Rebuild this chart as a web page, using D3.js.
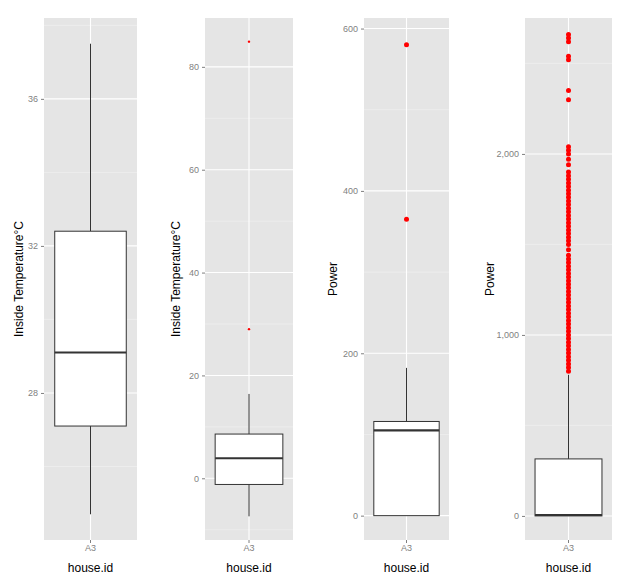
<!DOCTYPE html><html><head><meta charset="utf-8">
<script src="https://cdn.jsdelivr.net/npm/d3@7"></script>
<style>body{margin:0;background:#fff;font-family:"Liberation Sans",Arial,sans-serif}</style></head><body>
<svg id="c" width="626" height="582"></svg>
<script>
const category = ["A3"];
const yTitles = ["Inside Temperature°C","Inside Temperature°C","Power","Power"];
const stats = [ // [lowWhisker, q1, median, q3, highWhisker]
  [24.7, 27.1, 29.1, 32.4, 37.5],
  [-7.4, -1.2, 3.9, 8.6, 16.4],
  [0, 0, 105, 116, 182],
  [0, 0, 5, 315, 780]
];
const outliers = [
  [],
  [84.9, 29],
  [580, 365],
  [800,820,840,860,880,900,920,940,960,980,1000,1020,1040,1060,1080,1100,1120,1140,1160,1180,1200,1220,1240,1260,1280,1300,1320,1340,1360,1380,1400,1420,1440,
   1470,1500,1520,1540,1560,1580,1600,1620,1640,1660,1680,1700,1720,1740,1760,1780,1800,1820,1840,1860,1880,1900,1940,1970,2000,2020,2040,
   2300,2350,2520,2540,2620,2640,2660]
];
const domains = [[24.0,38.2],[-12,89.5],[-30,613],[-133,2751]];
const majorTicks = [[28,32,36],[0,20,40,60,80],[0,200,400,600],[0,1000,2000]];
const minorTicks = [[26,30,34,38],[-10,10,30,50,70,90],[100,300,500],[500,1500,2500]];
const pointR = [2,1.2,2.5,2.5];
const panelX = [[44,137],[205,293],[364,449],[525,612]];
const titleX = [19,176,333,490];
const plotTop=18,plotBottom=540;
const svg=d3.select("#c");
stats.forEach((s,i)=>{
  const [x0,x1]=panelX[i];
  const y=d3.scaleLinear().domain(domains[i]).range([plotBottom,plotTop]);
  const x=d3.scaleBand().domain(category).range([x0,x1]).paddingInner(0).paddingOuter(0.15);
  const g=svg.append("g");
  g.append("rect").attr("x",x0).attr("y",plotTop).attr("width",x1-x0).attr("height",plotBottom-plotTop).attr("fill","#E5E5E5");
  minorTicks[i].filter(v=>v>=domains[i][0]&&v<=domains[i][1]).forEach(v=>g.append("line").attr("x1",x0).attr("x2",x1).attr("y1",y(v)).attr("y2",y(v)).attr("stroke","#F2F2F2").attr("stroke-width",0.6));
  majorTicks[i].forEach(v=>g.append("line").attr("x1",x0).attr("x2",x1).attr("y1",y(v)).attr("y2",y(v)).attr("stroke","#fff").attr("stroke-width",1.1));
  const cx=x(category[0])+x.bandwidth()/2;
  g.append("line").attr("x1",cx).attr("x2",cx).attr("y1",plotTop).attr("y2",plotBottom).attr("stroke","#fff").attr("stroke-width",1.1);
  const ya=g.append("g").attr("transform",`translate(${x0},0)`).call(d3.axisLeft(y).tickValues(majorTicks[i]).tickSize(3).tickPadding(3));
  ya.select(".domain").remove();
  ya.selectAll("line").attr("stroke","#7F7F7F");
  ya.selectAll("text").attr("fill","#7F7F7F").style("font-size","9px").style("font-family","Liberation Sans, Arial");
  const xa=g.append("g").attr("transform",`translate(0,${plotBottom})`).call(d3.axisBottom(x).tickSize(3).tickPadding(2));
  xa.select(".domain").remove();
  xa.selectAll("line").attr("stroke","#7F7F7F");
  xa.selectAll("text").attr("fill","#7F7F7F").style("font-size","9px").style("font-family","Liberation Sans, Arial");
  g.append("text").attr("x",cx).attr("y",572).attr("text-anchor","middle").style("font-size","12px").text("house.id");
  g.append("text").attr("transform",`translate(${titleX[i]+4},${(plotTop+plotBottom)/2}) rotate(-90)`).attr("text-anchor","middle").style("font-size","12px").text(yTitles[i]);
  const bx=x(category[0]), bw=x.bandwidth();
  g.append("line").attr("x1",cx).attr("x2",cx).attr("y1",y(s[4])).attr("y2",y(s[3])).attr("stroke","#333");
  g.append("line").attr("x1",cx).attr("x2",cx).attr("y1",y(s[1])).attr("y2",y(s[0])).attr("stroke","#333");
  g.append("rect").attr("x",bx).attr("width",bw).attr("y",y(s[3])).attr("height",Math.max(0,y(s[1])-y(s[3]))).attr("fill","#fff").attr("stroke","#333");
  g.append("line").attr("x1",bx).attr("x2",bx+bw).attr("y1",y(s[2])).attr("y2",y(s[2])).attr("stroke","#333").attr("stroke-width",2.2);
  g.selectAll("circle").data(outliers[i]).join("circle").attr("cx",cx).attr("cy",d=>y(d)).attr("r",pointR[i]).attr("fill","#F00");
});
</script></body></html>
